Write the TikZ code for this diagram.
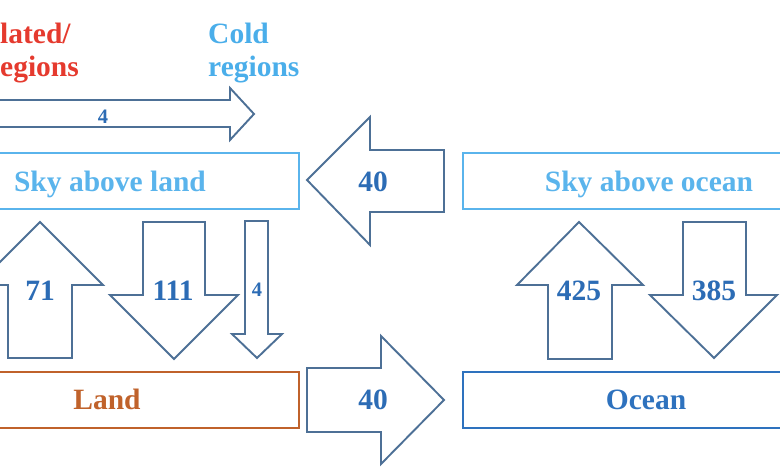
\documentclass[tikz,border=0pt]{standalone}
\usepackage{fontspec}
\setmainfont{Liberation Serif}
\definecolor{hotred}{HTML}{E53A2E}
\definecolor{coldblue}{HTML}{4AAEEA}
\definecolor{skyline}{HTML}{5AB4EC}
\definecolor{landbrown}{HTML}{C0622B}
\definecolor{oceanblue}{HTML}{2E72BE}
\definecolor{numblue}{HTML}{2C6CB5}
\definecolor{arrowline}{HTML}{4D7096}
\begin{document}
\begin{tikzpicture}[x=1pt,y=-1pt,
  bigtxt/.style={font=\fontsize{29.5}{32}\selectfont\bfseries, inner sep=0pt, anchor=base},
  smalltxt/.style={font=\fontsize{20.5}{22}\selectfont\bfseries, inner sep=0pt, text=numblue, anchor=base},
  numtxt/.style={bigtxt, text=numblue},
  skybox/.style={draw=skyline, line width=2pt, minimum height=56pt, inner sep=0pt},
  landbox/.style={draw=landbrown, line width=2.4pt, minimum height=56pt, inner sep=0pt},
  oceanbox/.style={draw=oceanblue, line width=2.4pt, minimum height=56pt, inner sep=0pt},
  blockarrow/.style={draw=arrowline, line width=1.9pt, fill=white, line join=miter}
]
\useasboundingbox (0,0) rectangle (780,470);

% boxes
\node[skybox, minimum width=319pt] (skyland) at (139.5,181) {};
\node[skybox, minimum width=337pt] (skyocean) at (631.5,181) {};
\node[landbox, minimum width=319pt] (land) at (139.5,400) {};
\node[oceanbox, minimum width=337pt] (ocean) at (631.5,400) {};

\node[bigtxt, text=skyline] (skylandtxt) at (110,192) {Sky above land};
\node[bigtxt, text=skyline] (skyoceantxt) at (649,192) {Sky above ocean};
\node[bigtxt, text=landbrown] (landtxt) at (107,410) {Land};
\node[bigtxt, text=oceanblue] (oceantxt) at (646,410) {Ocean};

% region labels
\node[bigtxt, text=hotred, anchor=base west] (hot1) at (0,44) {lated/};
\node[bigtxt, text=hotred, anchor=base west] (hot2) at (0,77) {egions};
\node[bigtxt, text=coldblue, anchor=base west] (cold1) at (208,44) {Cold};
\node[bigtxt, text=coldblue, anchor=base west] (cold2) at (208,77) {regions};

% top horizontal arrow (4)
\draw[blockarrow] (-10,100) -- (230,100) -- (230,88) -- (254,114) -- (230,140) -- (230,127) -- (-10,127) -- cycle;
\node[smalltxt] (f4top) at (103,124) {4};

% big left arrow (40) from sky above ocean to sky above land
\draw[blockarrow] (307,180) -- (370,117) -- (370,150) -- (444,150) -- (444,212) -- (370,212) -- (370,245) -- cycle;
\node[numtxt] (f40top) at (373,192) {40};

% big right arrow (40) from land to ocean
\draw[blockarrow] (307,368) -- (381,368) -- (381,336) -- (444,400) -- (381,464) -- (381,432) -- (307,432) -- cycle;
\node[numtxt] (f40bot) at (373,410) {40};

% up arrow 71
\draw[blockarrow] (40,222) -- (103,285) -- (72,285) -- (72,358) -- (8,358) -- (8,285) -- (-23,285) -- cycle;
\node[numtxt] (f71) at (40,301) {71};

% down arrow 111
\draw[blockarrow] (143,222) -- (205,222) -- (205,295) -- (238,295) -- (174,359) -- (110,295) -- (143,295) -- cycle;
\node[numtxt] (f111) at (173,301) {111};

% thin down arrow 4
\draw[blockarrow] (245,221) -- (268,221) -- (268,334) -- (282,334) -- (257,358) -- (232,334) -- (245,334) -- cycle;
\node[smalltxt] (f4side) at (257,297) {4};

% up arrow 425
\draw[blockarrow] (579,222) -- (643,285) -- (612,285) -- (612,359) -- (548,359) -- (548,285) -- (517,285) -- cycle;
\node[numtxt] (f425) at (579,301) {425};

% down arrow 385
\draw[blockarrow] (683,222) -- (746,222) -- (746,295) -- (777,295) -- (714,358) -- (650,295) -- (683,295) -- cycle;
\node[numtxt] (f385) at (714,301) {385};
\end{tikzpicture}
\end{document}
